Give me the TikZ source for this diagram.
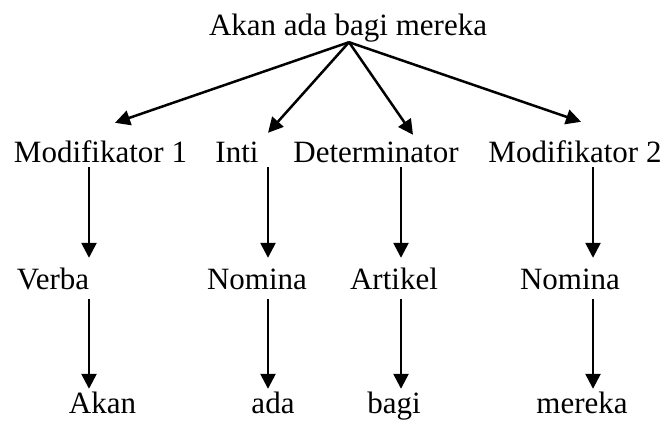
\documentclass[tikz,border=0pt]{standalone}
\usepackage{fontspec}
\setmainfont{Liberation Serif}
\usetikzlibrary{arrows.meta,calc}
\begin{document}
\begin{tikzpicture}[x=1pt,y=-1pt,
  lbl/.style={anchor=base,inner sep=0pt,text height=21pt,text depth=0pt,font=\fontsize{31}{36}\selectfont},
  arr/.style={line width=2.5pt,-{Triangle[length=15pt,width=15pt]}}]
\useasboundingbox (0,0) rectangle (668,421);
% top
\node[lbl,text depth=7pt] (top) at (348,35) {Akan ada bagi mereka};
% row 2
\node[lbl] (m1)  at (100.5,162) {Modifikator 1};
\node[lbl] (inti) at (237,162) {Inti};
\node[lbl] (det) at (376,162) {Determinator};
\node[lbl] (m2)  at (575,162) {Modifikator 2};
% row 3
\node[lbl] (verba) at (53,289) {Verba};
\node[lbl] (nom1)  at (257,289) {Nomina};
\node[lbl] (art)   at (394,289) {Artikel};
\node[lbl] (nom2)  at (570,289) {Nomina};
% row 4
\node[lbl] (akan)   at (102.5,413) {Akan};
\node[lbl] (ada)    at (273,413) {ada};
\node[lbl] (bagi)   at (394,413) {bagi};
\node[lbl] (mereka) at (582,413) {mereka};
% top arrows
\draw[arr] ($(top.south)+(1,0)$) -- ($(m1.north)+(14.5,-18)$);
\draw[arr] ($(top.south)+(1,0)$) -- ($(inti.north)+(31,-8)$);
\draw[arr] ($(top.south)+(1,0)$) -- ($(det.north)+(37,-6)$);
\draw[arr] ($(top.south)+(1,0)$) -- ($(m2.north)+(6,-19)$);
% row 2 -> row 3
\draw[arr] ($(m1.south -| 89,0)+(0,5)$) -- ($(verba.north -| 89,0)+(0,-10)$);
\draw[arr] ($(inti.south -| 268,0)+(0,5)$) -- ($(nom1.north -| 268,0)+(0,-10)$);
\draw[arr] ($(det.south -| 401,0)+(0,5)$) -- ($(art.north -| 401,0)+(0,-10)$);
\draw[arr] ($(m2.south -| 593,0)+(0,5)$) -- ($(nom2.north -| 593,0)+(0,-10)$);
% row 3 -> row 4
\draw[arr] ($(verba.south -| 89,0)+(0,10)$) -- ($(akan.north -| 89,0)+(0,-3)$);
\draw[arr] ($(nom1.south -| 268,0)+(0,10)$) -- ($(ada.north -| 268,0)+(0,-3)$);
\draw[arr] ($(art.south -| 401,0)+(0,10)$) -- ($(bagi.north -| 401,0)+(0,-3)$);
\draw[arr] ($(nom2.south -| 593,0)+(0,10)$) -- ($(mereka.north -| 593,0)+(0,-3)$);
\end{tikzpicture}
\end{document}
